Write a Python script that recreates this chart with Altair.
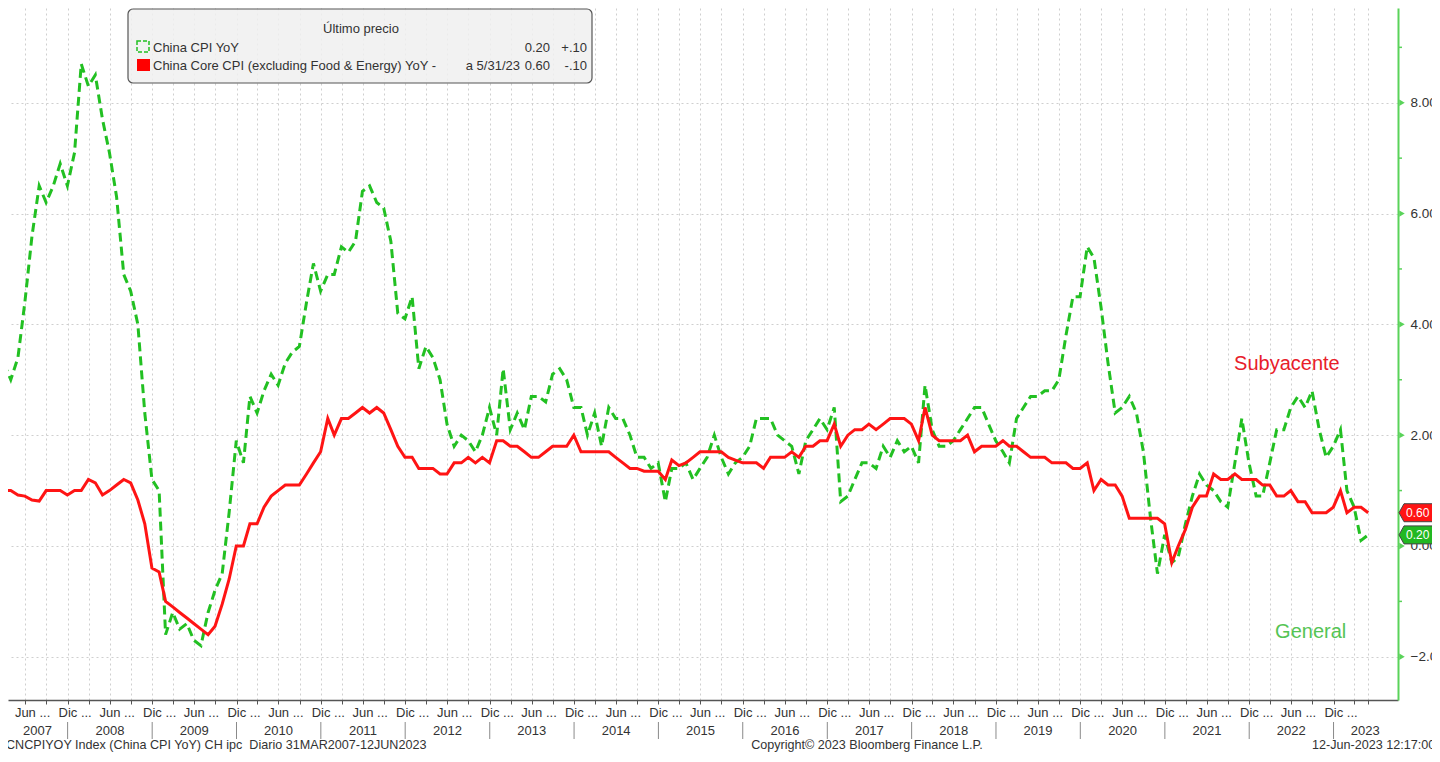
import altair as alt
import pandas as pd

# ---------------- data (monthly, Mar 2007 - May 2023) ----------------
CPI = [
    3.3, 3.0, 3.4, 4.4, 5.6, 6.5, 6.2, 6.5, 6.9, 6.5,                 # 2007 Mar-Dec
    7.1, 8.7, 8.3, 8.5, 7.7, 7.1, 6.3, 4.9, 4.6, 4.0, 2.4, 1.2,       # 2008
    1.0, -1.6, -1.2, -1.5, -1.4, -1.7, -1.8, -1.2, -0.8, -0.5, 0.6, 1.9,  # 2009
    1.5, 2.7, 2.4, 2.8, 3.1, 2.9, 3.3, 3.5, 3.6, 4.4, 5.1, 4.6,       # 2010
    4.9, 4.9, 5.4, 5.3, 5.5, 6.4, 6.5, 6.2, 6.1, 5.5, 4.2, 4.1,       # 2011
    4.5, 3.2, 3.6, 3.4, 3.0, 2.2, 1.8, 2.0, 1.9, 1.7, 2.0, 2.5,       # 2012
    2.0, 3.2, 2.1, 2.4, 2.1, 2.7, 2.7, 2.6, 3.1, 3.2, 3.0, 2.5,       # 2013
    2.5, 2.0, 2.4, 1.8, 2.5, 2.3, 2.3, 2.0, 1.6, 1.6, 1.4, 1.5,       # 2014
    0.8, 1.4, 1.4, 1.5, 1.2, 1.4, 1.6, 2.0, 1.6, 1.3, 1.5, 1.6,       # 2015
    1.8, 2.3, 2.3, 2.3, 2.0, 1.9, 1.8, 1.3, 1.9, 2.1, 2.3, 2.1,       # 2016
    2.5, 0.8, 0.9, 1.2, 1.5, 1.5, 1.4, 1.8, 1.6, 1.9, 1.7, 1.8,       # 2017
    1.5, 2.9, 2.1, 1.8, 1.8, 1.9, 2.1, 2.3, 2.5, 2.5, 2.2, 1.9,       # 2018
    1.7, 1.5, 2.3, 2.5, 2.7, 2.7, 2.8, 2.8, 3.0, 3.8, 4.5, 4.5,       # 2019
    5.4, 5.2, 4.3, 3.3, 2.4, 2.5, 2.7, 2.4, 1.7, 0.5, -0.5, 0.2,      # 2020
    -0.3, -0.2, 0.4, 0.9, 1.3, 1.1, 1.0, 0.8, 0.7, 1.5, 2.3, 1.5,     # 2021
    0.9, 0.9, 1.5, 2.1, 2.1, 2.5, 2.7, 2.5, 2.8, 2.1, 1.6, 1.8,       # 2022
    2.1, 1.0, 0.7, 0.1, 0.2,                                          # 2023 Jan-May
]
CORE = [
    1.0, 1.0, 0.92, 0.9, 0.83, 0.81, 1.0, 1.0, 1.0, 0.92,             # 2007 Mar-Dec
    1.0, 1.0, 1.2, 1.14, 0.92, 1.0, 1.1, 1.2, 1.14, 0.83, 0.4, -0.4,  # 2008
    -0.47, -1.0, -1.1, -1.2, -1.3, -1.4, -1.5, -1.6, -1.45, -1.05, -0.6, 0.0,  # 2009
    0.0, 0.4, 0.4, 0.7, 0.9, 1.0, 1.1, 1.1, 1.1, 1.3, 1.5, 1.7,       # 2010
    2.3, 2.0, 2.3, 2.3, 2.4, 2.5, 2.4, 2.5, 2.4, 2.1, 1.8, 1.6,       # 2011
    1.6, 1.4, 1.4, 1.4, 1.3, 1.3, 1.5, 1.5, 1.6, 1.5, 1.6, 1.5,       # 2012
    1.9, 1.9, 1.8, 1.8, 1.7, 1.6, 1.6, 1.7, 1.8, 1.8, 1.8, 2.0,       # 2013
    1.7, 1.7, 1.7, 1.7, 1.7, 1.6, 1.5, 1.4, 1.4, 1.35, 1.35, 1.35,    # 2014
    1.2, 1.55, 1.45, 1.5, 1.6, 1.7, 1.7, 1.7, 1.7, 1.6, 1.55, 1.5,    # 2015
    1.5, 1.5, 1.4, 1.6, 1.6, 1.6, 1.7, 1.6, 1.8, 1.8, 1.9, 1.9,       # 2016
    2.2, 1.8, 2.0, 2.1, 2.1, 2.2, 2.1, 2.2, 2.3, 2.3, 2.3, 2.2,       # 2017
    1.9, 2.5, 2.0, 1.9, 1.9, 1.9, 1.9, 2.0, 1.7, 1.8, 1.8, 1.8,       # 2018
    1.9, 1.8, 1.8, 1.7, 1.6, 1.6, 1.6, 1.5, 1.5, 1.5, 1.4, 1.4,       # 2019
    1.5, 1.0, 1.2, 1.1, 1.1, 0.9, 0.5, 0.5, 0.5, 0.5, 0.5, 0.4,       # 2020
    -0.3, 0.0, 0.3, 0.7, 0.9, 0.9, 1.3, 1.2, 1.2, 1.3, 1.2, 1.2,      # 2021
    1.2, 1.1, 1.1, 0.9, 0.9, 1.0, 0.8, 0.8, 0.6, 0.6, 0.6, 0.7,       # 2022
    1.0, 0.6, 0.7, 0.7, 0.6,                                          # 2023 Jan-May
]
YEAR_LABELS = ["2007", "2008", "2009", "2010", "2011", "2012", "2013", "2014",
               "2015", "2016", "2017", "2018", "2019", "2020", "2021", "2022", "2023"]
YEAR_LABEL_POS = ["2007-08-24"] + [f"{y}-07-02" for y in range(2008, 2023)] + ["2023-05-18"]
YEAR_SEPARATORS = [f"{y}-01-01" for y in range(2008, 2024)]
Y_TICKS = [-2, 0, 2, 4, 6, 8]
Y_MINOR = [-1, 1, 3, 5, 7, 9]
LAST_VALUES = [0.60, 0.20]
LAST_LABELS = ["0.60", "0.20"]

# ---------------- build tables ----------------
dates = []
yy, mm = 2007, 3
for _ in range(len(CPI)):
    ts = pd.Timestamp(year=yy, month=mm, day=1) + pd.offsets.MonthEnd(0)
    dates.append(ts.strftime("%Y-%m-%d"))
    mm += 1
    if mm > 12:
        mm = 1
        yy += 1
df = pd.DataFrame({"date": dates, "cpi": CPI, "core": CORE})

tick_vals = []
for y in range(2007, 2024):
    for mo in (1, 4, 7, 10):
        if (y, mo) >= (2007, 7) and (y, mo) <= (2023, 4):
            tick_vals.append(alt.DateTime(year=y, month=mo, date=1, utc=True))
tick_vals.append(alt.DateTime(year=2023, month=5, date=31, utc=True))

W, H = 1390, 692
FONT = "Liberation Sans, Arial, sans-serif"
GREEN = "#22c022"
AXIS_GREEN = "#5ad35a"
RED = "#ff1414"
GRID = "#cfcfcf"
TXT = "#333333"

x_scale = alt.Scale(type="utc", domain=[alt.DateTime(year=2007, month=4, date=18, utc=True),
                                        alt.DateTime(year=2023, month=10, date=7, utc=True)])
y_scale = alt.Scale(domain=[-2.78, 9.71], nice=False, zero=False)

x_axis = alt.Axis(
    values=tick_vals, title=None,
    labelExpr="utcmonth(datum.value)==6 ? 'Jun ...' : ((utcmonth(datum.value)==0 && utcdate(datum.value)==1) ? 'Dic ...' : '')",
    labelOffset=7, labelPadding=2, labelOverlap=False, labelFlush=False,
    labelFont=FONT, labelFontSize=13, labelColor=TXT,
    tickSize=4, tickColor="#555555", domainColor="#555555", domainWidth=1.5,
    grid=True, gridColor=GRID, gridDash=[2, 3], gridWidth=1,
)
y_axis = alt.Axis(
    orient="right", values=Y_TICKS, format=".2f", title=None, ticks=False,
    labelPadding=12, labelFont=FONT, labelFontSize=13.5, labelColor=TXT,
    domainColor=AXIS_GREEN, domainWidth=2,
    grid=True, gridColor=GRID, gridDash=[2, 3], gridWidth=1,
)

X = alt.X("date:T", scale=x_scale, axis=x_axis)

base = alt.Chart(df)
green_line = base.mark_line(color=GREEN, strokeWidth=3, strokeDash=[9, 5], clip=True).encode(
    x=X, y=alt.Y("cpi:Q", scale=y_scale, axis=y_axis))
red_line = base.mark_line(color=RED, strokeWidth=3, clip=True).encode(
    x=X, y=alt.Y("core:Q", scale=y_scale, axis=y_axis))

# x-axis year row and separators
df_years = pd.DataFrame({"date": YEAR_LABEL_POS, "label": YEAR_LABELS})
years = alt.Chart(df_years).mark_text(font=FONT, fontSize=13, color=TXT, baseline="middle").encode(
    x=X, y=alt.value(723), text="label:N")
df_sep = pd.DataFrame({"date": YEAR_SEPARATORS})
seps = alt.Chart(df_sep).mark_rule(color="#8a8a8a", strokeWidth=1).encode(
    x=X, y=alt.value(714), y2=alt.value(731))

# right axis tick markers
df_major = pd.DataFrame({"v": Y_TICKS})
majors = alt.Chart(df_major).mark_point(shape="triangle-right", filled=True, size=40,
                                        color=AXIS_GREEN, opacity=1).encode(
    x=alt.value(W + 4), y=alt.Y("v:Q", scale=y_scale, axis=y_axis))
df_minor = pd.DataFrame({"v": Y_MINOR})
minors = alt.Chart(df_minor).mark_rule(color=AXIS_GREEN, strokeWidth=1.5).encode(
    x=alt.value(W), x2=alt.value(W + 4), y=alt.Y("v:Q", scale=y_scale, axis=y_axis))

# last value badges
BADGE = "M -1 0 L -0.75 -0.45 L 1 -0.45 L 1 0.45 L -0.75 0.45 Z"
df_badge = pd.DataFrame({"v": LAST_VALUES, "t": LAST_LABELS, "c": [RED, "#22b822"]})
badges = alt.Chart(df_badge).mark_point(shape=BADGE, size=1600, filled=True, opacity=1,
                                        stroke="#444444", strokeWidth=1).encode(
    x=alt.value(W + 21), y=alt.Y("v:Q", scale=y_scale, axis=y_axis),
    fill=alt.Color("c:N", scale=None))
badge_txt = alt.Chart(df_badge).mark_text(font=FONT, fontSize=12, color="white",
                                          align="left", baseline="middle").encode(
    x=alt.value(W + 8), y=alt.Y("v:Q", scale=y_scale, axis=y_axis), text="t:N")

# annotations
df_ann = pd.DataFrame({"date": ["2022-06-13", "2022-09-24"], "v": [3.28, -1.55],
                       "t": ["Subyacente", "General"], "c": ["#e8202a", "#55c455"]})
ann = alt.Chart(df_ann).mark_text(font=FONT, fontSize=20, align="center", baseline="middle").encode(
    x=X, y=alt.Y("v:Q", scale=y_scale, axis=y_axis), text="t:N", color=alt.Color("c:N", scale=None))

# legend box (plot coords = page coords - 8)
one = pd.DataFrame({"a": [0]})
leg_box = alt.Chart(one).mark_rect(fill="#f0f0f0", fillOpacity=0.85, stroke="#555555",
                                   strokeWidth=1.2, cornerRadius=5).encode(
    x=alt.value(120), x2=alt.value(584), y=alt.value(1), y2=alt.value(75))
leg_icon1 = alt.Chart(one).mark_rect(fillOpacity=0, fill="white", stroke=GREEN, strokeWidth=1.5,
                                     strokeDash=[4, 2]).encode(
    x=alt.value(129), x2=alt.value(141), y=alt.value(33), y2=alt.value(44))
leg_icon2 = alt.Chart(one).mark_rect(fill="#ff0000").encode(
    x=alt.value(129), x2=alt.value(142), y=alt.value(51), y2=alt.value(63))


def ltext(s, x, y, align="left", size=13):
    return alt.Chart(one).mark_text(text=s, font=FONT, fontSize=size, color=TXT,
                                    align=align, baseline="middle").encode(
        x=alt.value(x), y=alt.value(y))


leg_texts = [
    ltext("Último precio", 353, 21, "center"),
    ltext("China CPI YoY", 145, 40),
    ltext("0.20", 542, 40, "right"),
    ltext("+.10", 579, 40, "right"),
    ltext("China Core CPI (excluding Food & Energy) YoY -", 145, 58),
    ltext("a 5/31/23", 512, 58, "right"),
    ltext("0.60", 542, 58, "right"),
    ltext("-.10", 579, 58, "right"),
]

footer = [
    ltext("CNCPIYOY Index (China CPI YoY) CH ipc\u00a0\u00a0Diario 31MAR2007-12JUN2023", -2, 737, "left", 12.6),
    ltext("Copyright\u00a9 2023 Bloomberg Finance L.P.", 859, 737, "center", 12.6),
    ltext("12-Jun-2023 12:17:00", 1304, 737, "left", 12.6),
]

chart = alt.layer(
    green_line, red_line, years, seps, minors, majors, badges, badge_txt, ann,
    leg_box, leg_icon1, leg_icon2, *leg_texts, *footer
).properties(
    width=W, height=H,
    autosize=alt.AutoSizeParams(type="none"),
    padding={"left": 0, "top": 0, "right": 34, "bottom": 54},
    background="white",
).configure_view(stroke=None)

chart.save("out.html", embed_options={"renderer": "svg", "actions": False})
